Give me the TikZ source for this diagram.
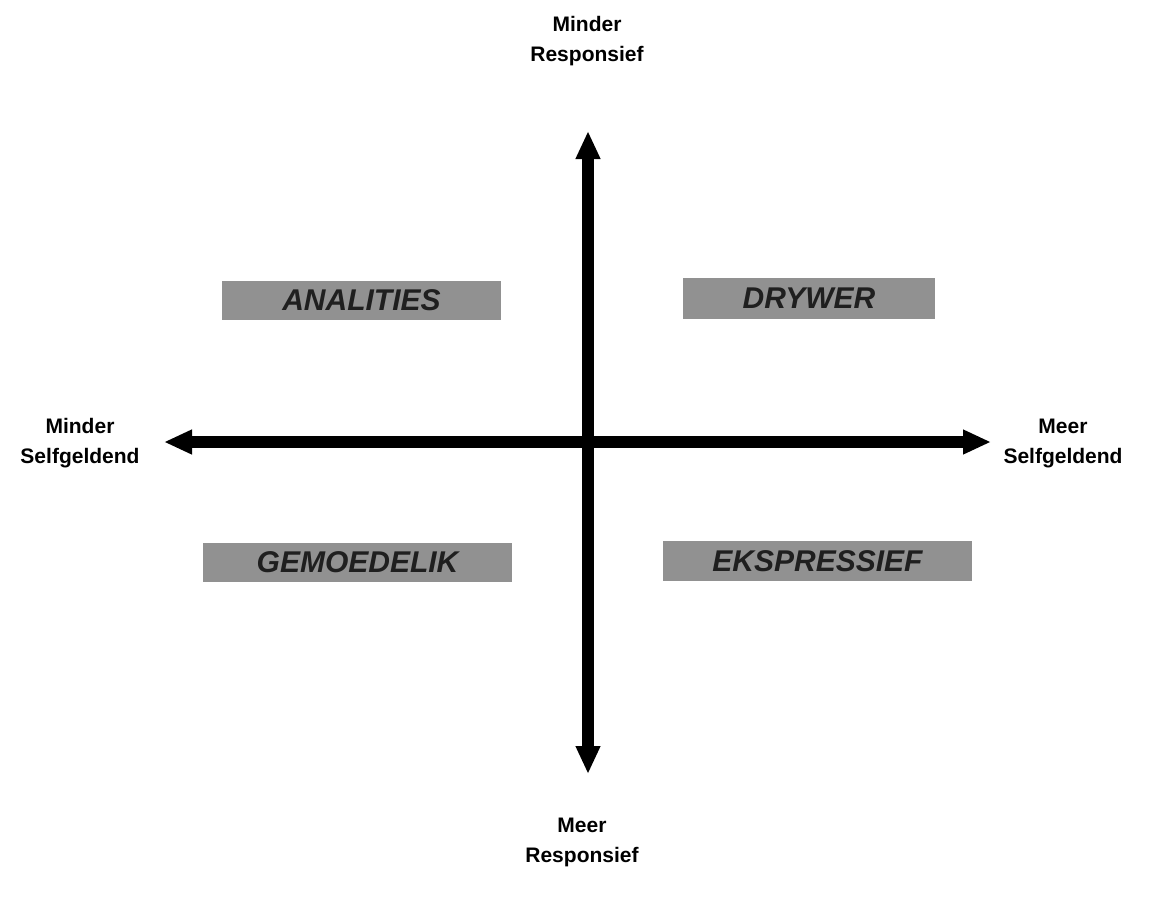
\documentclass[tikz,border=0pt]{standalone}
\usepackage{fontspec}
\setmainfont{Liberation Sans}
\usetikzlibrary{arrows.meta}
\begin{document}
\begin{tikzpicture}[x=1pt,y=-1pt,
  axislabel/.style={font=\bfseries\fontsize{21}{30}\selectfont, align=center, text=black},
  stylebox/.style={fill=black!43, draw=none, inner sep=0pt,
    font=\bfseries\itshape\fontsize{30}{30}\selectfont, text=black!88},
  axis/.style={line width=12pt, {Triangle[length=28pt,width=23pt]}-{Triangle[length=28pt,width=23pt]}}]
  \useasboundingbox (0,0) rectangle (1154,900);
  % axis end points
  \coordinate (top) at (588,131);
  \coordinate (bottom) at (588,774);
  \coordinate (left) at (164,442);
  \coordinate (right) at (991,442);
  \draw[axis] (bottom) -- (top);
  \draw[axis] (left) -- (right);
  % axis labels
  \node[axislabel] (up) at (587,41) {Minder\\Responsief};
  \node[axislabel] (down) at (582,842) {Meer\\Responsief};
  \node[axislabel] (lt) at (80,443) {Minder\\Selfgeldend};
  \node[axislabel] (rt) at (1063,443) {Meer\\Selfgeldend};
  % quadrant boxes
  \node[stylebox, minimum width=279pt, minimum height=39pt] (ana) at (361.5,300.5) {ANALITIES};
  \node[stylebox, minimum width=252pt, minimum height=41pt] (dry) at (809,298.5) {DRYWER};
  \node[stylebox, minimum width=309pt, minimum height=39pt] (gem) at (357.5,562.5) {GEMOEDELIK};
  \node[stylebox, minimum width=309pt, minimum height=40pt] (eks) at (817.5,561) {EKSPRESSIEF};
\end{tikzpicture}
\end{document}
